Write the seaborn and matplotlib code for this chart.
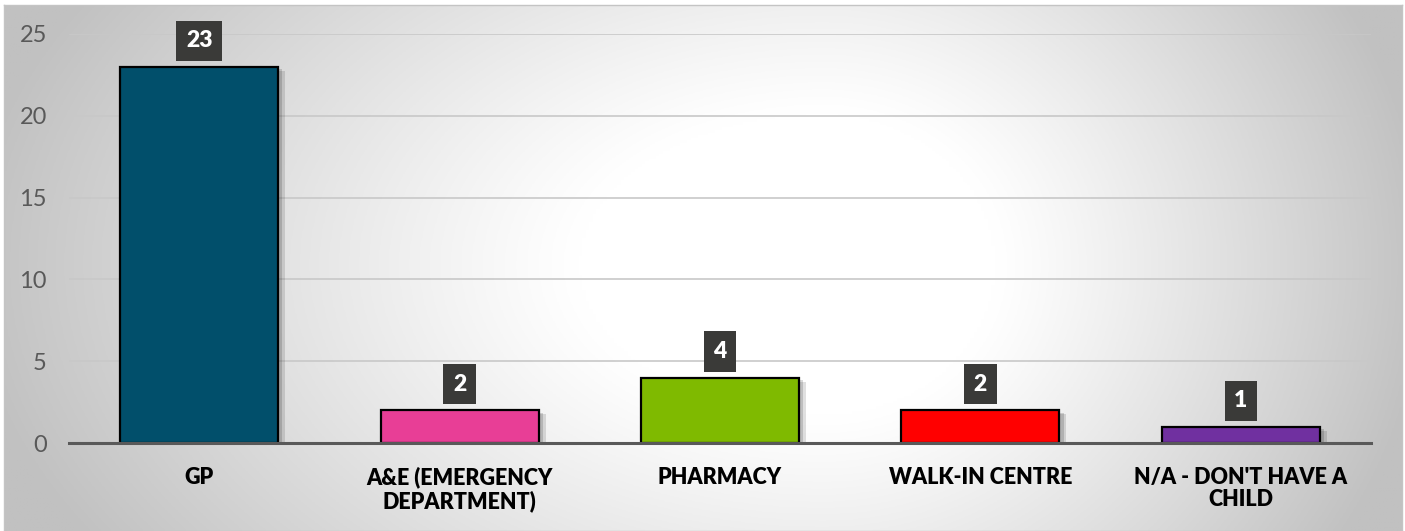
import numpy as np
import pandas as pd
import seaborn as sns
import matplotlib.pyplot as plt
import matplotlib.patheffects as pe

categories = ['GP', 'A&E (EMERGENCY\nDEPARTMENT)', 'PHARMACY', 'WALK-IN CENTRE', "N/A - DON'T HAVE A\nCHILD"]
counts = [23, 2, 4, 2, 1]
bar_colors = ['#014F6B', '#E83E96', '#7FBA00', '#FF0000', '#7030A0']
y_ticks = [0, 5, 10, 15, 20, 25]

df = pd.DataFrame({'place': categories, 'count': counts})

sns.set_style('white')
plt.rcParams['font.family'] = ['Lato', 'DejaVu Sans']

W, H = 1405, 531
fig = plt.figure(figsize=(W / 100, H / 100), dpi=100)

# background panel with a soft radial-ish gradient
bg = fig.add_axes([4 / W, 0, 1398 / W, 526 / H])
xx, yy = np.meshgrid(np.linspace(0, 1398, 400), np.linspace(0, 526, 200))
cx, cy = 820, 260
dx = np.where(xx < cx, (cx - xx) / cx, (xx - cx) / (1398 - cx))
dy = np.abs(yy - cy) / 300
r = np.sqrt(dx ** 2 + 0.35 * dy ** 2)
t = np.clip((r - 0.3) / 0.75, 0, 1) ** 1.1
v = 255 - 62 * t
bg.imshow(np.dstack([v, v, v]) / 255, aspect='auto', extent=(0, 1, 0, 1), origin='upper')
bg.set_xticks([])
bg.set_yticks([])
for s in bg.spines.values():
    s.set_color('#c4c4c4')
    s.set_linewidth(1)

ax = fig.add_axes([69 / W, 88 / H, 1302 / W, 409 / H])
ax.patch.set_alpha(0)

sns.barplot(data=df, x='place', y='count', hue='place', palette=bar_colors, saturation=1,
            legend=False, width=0.607, edgecolor='black', linewidth=1.6, ax=ax, zorder=3)

for p in ax.patches:
    p.set_path_effects([pe.SimplePatchShadow(offset=(5, -3), shadow_rgbFace='black', alpha=0.12),
                        pe.SimplePatchShadow(offset=(3, -2), shadow_rgbFace='black', alpha=0.15),
                        pe.Normal()])

for i, c in enumerate(counts):
    ax.annotate(str(c), xy=(i, c), xytext=(0, 26), textcoords='offset pixels',
                ha='center', va='center', fontsize=16.5, fontweight='heavy', color='white',
                bbox=dict(boxstyle='square,pad=0.42', fc='#3a3a38', ec='none'),
                zorder=5, annotation_clip=False)

ax.set_xlim(-0.5, len(categories) - 0.5)
ax.set_ylim(0, 25)
ax.set_yticks(y_ticks)
ax.yaxis.grid(True, color='#c8c8c8', linewidth=1.2)
ax.set_axisbelow(True)
ax.set_xlabel('')
ax.set_ylabel('')
for s in ['top', 'right', 'left']:
    ax.spines[s].set_visible(False)
ax.spines['bottom'].set_color('#595959')
ax.spines['bottom'].set_linewidth(2.2)
ax.spines['bottom'].set_zorder(4)
ax.tick_params(axis='y', length=0, pad=16, labelsize=17, labelcolor='#595959')
ax.tick_params(axis='x', length=0, pad=17, labelsize=15.5, labelcolor='black')
for lab in ax.get_xticklabels():
    lab.set_fontweight('heavy')
    lab.set_linespacing(1.1)

fig.savefig('out.png', dpi=100)
